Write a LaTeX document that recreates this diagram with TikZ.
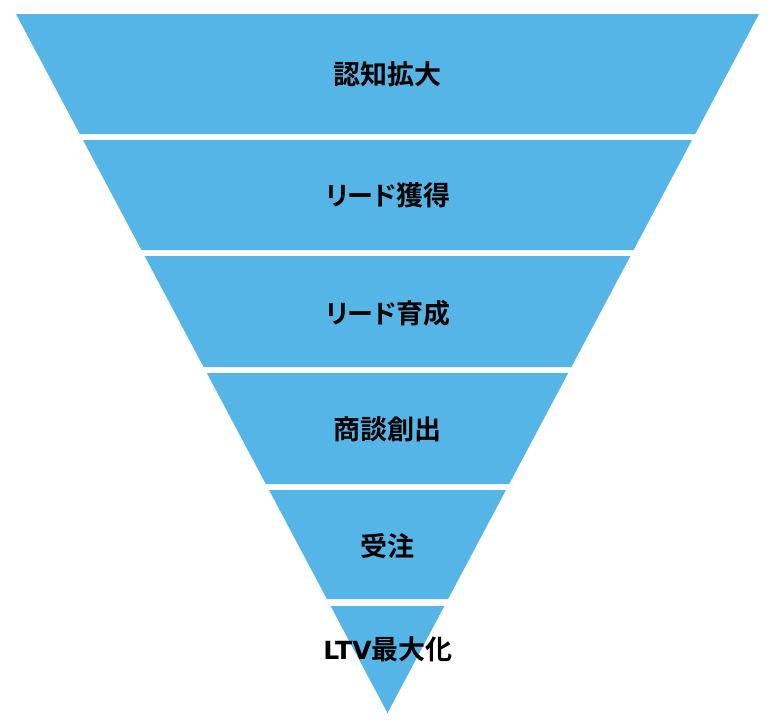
\documentclass[tikz,border=0pt]{standalone}
\usepackage{fontspec}
\newfontfamily\jpfont{Noto Sans CJK JP}[BoldFont={* Bold}]
\newfontfamily\jpprop{Noto Sans CJK JP}[BoldFont={* Bold},RawFeature=+palt]
\newfontfamily\latfont{DejaVu Sans}[BoldFont={* Bold}]
\definecolor{funnelblue}{RGB}{85,181,230}
\newcommand{\kana}[1]{{\jpprop\bfseries #1}}
\begin{document}
\begin{tikzpicture}[x=1pt,y=-1pt,
  band/.style={fill=funnelblue,draw=none},
  label/.style={font=\jpfont\bfseries\fontsize{27}{32}\selectfont,text=black,inner sep=0pt,anchor=center}]
\useasboundingbox (0,0) rectangle (774,726);
\fill[white] (0,0) rectangle (774,726);
\fill[band] (16,14) -- (759,14) -- (695.2,134) -- (79.8,134) -- cycle;
\fill[band] (83.0,140) -- (692.0,140) -- (633.6,250) -- (141.4,250) -- cycle;
\fill[band] (144.6,256) -- (630.4,256) -- (571.4,367) -- (203.6,367) -- cycle;
\fill[band] (206.8,373) -- (568.2,373) -- (509.2,484) -- (265.8,484) -- cycle;
\fill[band] (269.0,490) -- (506.0,490) -- (448.1,599) -- (326.9,599) -- cycle;
\fill[band] (330.6,606) -- (444.4,606) -- (387.5,713) -- cycle;
\node[label] (t1) at (387.5,74.5) {認知拡大};
\node[label] (t2) at (388,195.5) {{\fontsize{26}{32}\selectfont\kana{リード}}獲得};
\node[label] (t3) at (388,313) {{\fontsize{26}{32}\selectfont\kana{リード}}育成};
\node[label] (t4) at (387.5,429.5) {商談創出};
\node[label] (t5) at (387.5,546.5) {受注};
\node[label] (t6) at (388,649.5) {{\latfont\bfseries\fontsize{25}{30}\selectfont LTV}最大化};
\end{tikzpicture}
\end{document}
